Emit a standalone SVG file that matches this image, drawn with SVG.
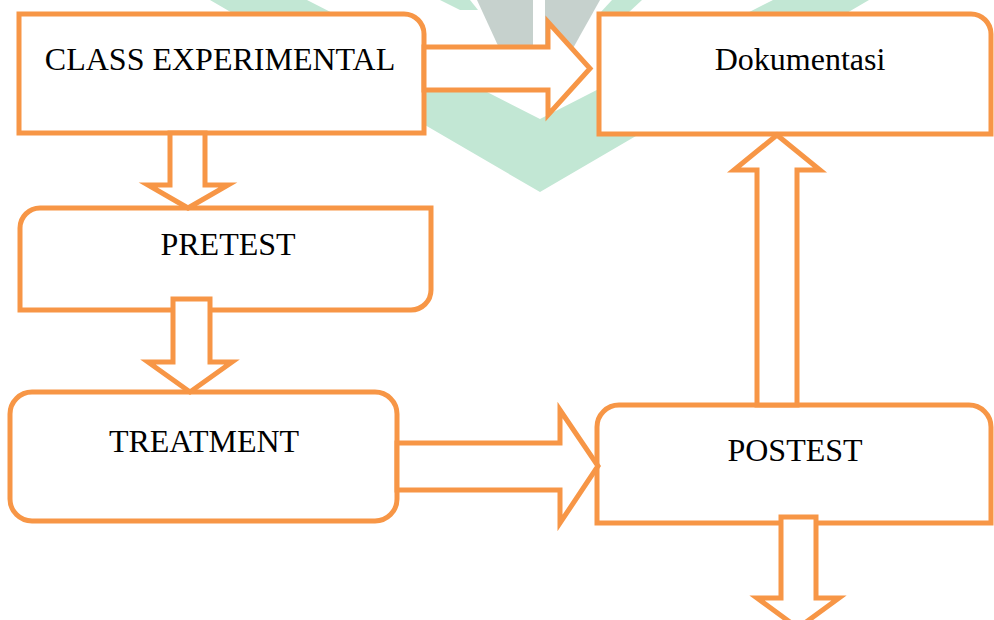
<svg xmlns="http://www.w3.org/2000/svg" width="994" height="620" viewBox="0 0 994 620">
<style>
.wm-g{fill:#c2e7d4}
.wm-s{fill:#c6d1cd}
.box{fill:#ffffff;stroke:#f79646;stroke-width:5;stroke-linejoin:miter}
.arr{fill:#ffffff;stroke:#f79646;stroke-width:5;stroke-linejoin:miter}
.lbl{font-family:"Liberation Serif","Times New Roman",serif;font-size:32px;fill:#000000;text-anchor:middle}
</style>
<rect x="0" y="0" width="994" height="620" fill="#ffffff"/>
<g id="watermark">
<polygon class="wm-g" points="210,0 307,0 540,119 773,0 869,0 540,192"/>
<polygon class="wm-g" points="440,0 470,0 478,10 460,10"/>
<polygon class="wm-g" points="612,0 642,0 628,13 600,13"/>
<polygon class="wm-s" points="477,0 533,0 533,50 500,50"/>
<polygon class="wm-s" points="545,0 600,0 572,50 545,50"/>
</g>
<g id="node-class">
<path class="box" d="M19,14 H404 A20,20 0 0 1 424,34 V133 H19 Z"/>
<text class="lbl" x="220" y="70">CLASS EXPERIMENTAL</text>
</g>
<g id="node-dokumentasi">
<path class="box" d="M599,14 H971 A20,20 0 0 1 991,34 V134 H599 Z"/>
<text class="lbl" x="800" y="70">Dokumentasi</text>
</g>
<g id="node-pretest">
<path class="box" d="M40,208 H431 V290 A20,20 0 0 1 411,310 H20 V228 A20,20 0 0 1 40,208 Z"/>
<text class="lbl" x="228" y="255">PRETEST</text>
</g>
<g id="node-treatment">
<rect class="box" x="10" y="392" width="387" height="129" rx="22" ry="22"/>
<text class="lbl" x="204" y="452">TREATMENT</text>
</g>
<g id="node-postest">
<path class="box" d="M597,523 V427 A22,22 0 0 1 619,405 H969 A22,22 0 0 1 991,427 V523 Z"/>
<text class="lbl" x="795" y="461">POSTEST</text>
</g>
<g id="connectors">
<polygon class="arr" points="424,47 548,47 548,22 590,68.5 548,115 548,90 424,90"/>
<polygon class="arr" points="170,133 170,185 148,185 188,208 228,185 205,185 205,133"/>
<polygon class="arr" points="173,299 173,362 148,362 190,392 232,362 210,362 210,299"/>
<polygon class="arr" points="397,443 560,443 560,410 598,466 560,523 560,490 397,490"/>
<polygon class="arr" points="757,405 757,170 734,170 777,135 820,170 797,170 797,405"/>
<polygon class="arr" points="781,517 781,598 757,598 798,628 839,598 816,598 816,517"/>
</g>
</svg>
